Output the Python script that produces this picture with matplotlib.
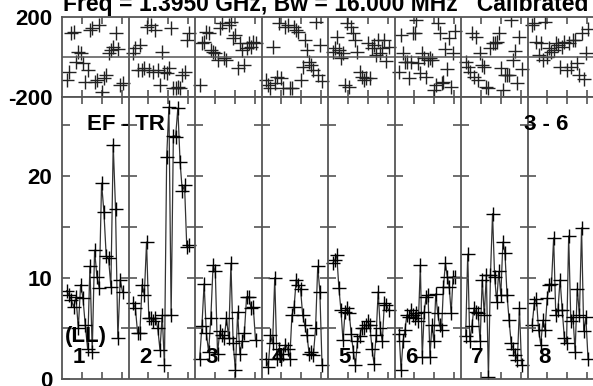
import matplotlib.pyplot as plt
import numpy as np

plt.rcParams['font.family'] = ['Liberation Sans', 'DejaVu Sans']
plt.rcParams['font.weight'] = 'bold'

title = 'Freq = 1.3950 GHz, Bw = 16.000 MHz   Calibrated'
baseline_label = 'EF - TR'
source_label = '3 - 6'
pol_label = '(LL)'
section_labels = ['1', '2', '3', '4', '5', '6', '7', '8']

# amplitude per section (IF 1..8)
amp1 = [8.7, 8.3, 7.8, 7.1, 8.1, 5.0, 9.3, 8.0, 5.3, 3.0, 11.1, 2.7, 12.7, 10.1, 9.0,
        19.3, 16.5, 12.1, 11.9, 9.1, 23.1, 16.8, 4.0, 9.8, 8.6]
amp2 = [7.5, 7.0, 4.5, 4.5, 9.3, 8.3, 13.5, 6.0, 6.0, 5.7, 6.0, 5.0, 2.9, 6.3, 1.4,
        21.9, 26.8, 6.3, 24.0, 23.9, 26.7, 21.4, 18.5, 19.1, 13.0, 13.2]
amp3 = [2.0, 5.2, 9.4, 4.5, 2.7, 6.0, 11.2, 10.6, 2.5, 4.7, 4.3, 4.0, 6.0, 4.0, 11.4,
        3.5, 0.9, 6.6, 2.5, 3.7, 4.5, 8.1, 8.1, 7.0, 7.1, 3.8]
amp4 = [2.0, 1.2, 4.3, 3.5, 10.0, 2.0, 3.0, 2.0, 2.5, 3.4, 3.0, 2.0, 6.3, 7.1, 9.8,
        9.3, 8.9, 6.3, 5.3, 4.3, 2.5, 2.7, 2.4, 5.0, 11.1, 8.6, 1.4]
amp5 = [11.4, 11.7, 12.2, 9.0, 6.8, 3.8, 6.6, 7.0, 6.5, 4.4, 2.7, 1.4, 3.7, 4.2, 5.0,
        5.0, 5.3, 5.7, 5.3, 3.0, 1.5, 4.3, 8.6, 5.0, 3.7, 7.5, 7.3, 6.8]
amp6 = [4.4, 0.9, 3.7, 4.8, 6.3, 6.1, 6.8, 6.3, 6.0, 6.5, 5.7, 11.2, 2.2, 6.6, 8.1,
        8.3, 2.2, 5.3, 3.7, 8.4, 6.5, 5.3, 4.8, 9.1, 11.4, 10.1, 9.1, 6.5, 10.1, 10.1]
amp7 = [4.2, 12.3, 3.7, 5.2, 7.0, 6.6, 6.5, 3.7, 9.8, 6.3, 10.3, 0.2, 10.3, 16.3, 10.1,
        7.6, 10.6, 8.3, 13.5, 12.4, 8.3, 5.8, 3.5, 3.0, 2.4, 1.9, 7.0, 1.4]
amp8 = [5.3, 7.5, 7.9, 4.8, 3.4, 5.8, 4.8, 8.0, 9.3, 9.4, 13.9, 6.3, 6.8, 9.8, 6.8,
        4.0, 3.5, 14.1, 5.7, 6.1, 2.7, 8.9, 6.3, 14.9, 4.7, 6.1, 2.0]

# phase (degrees) per section
ph1 = [-115, -73, 118, 125, -23, 27, 18, -32, -123, -65, 135, 143, -123, -115, 160,
       -173, -107, -90, 18, 35, 52, 118, 40, -140, -132]
ph2 = [18, 43, -65, 60, -65, -57, 152, -65, 160, -73, 135, -65, -140, 27, -73,
       -82, -57, 143, -157, -157, -148, -157, -90, -73, 85, 118]
ph3 = [-140, 68, 77, 125, 118, 35, 27, 18, -15, 143, 168, -7, -15, 160, 177,
       93, 110, -57, 68, 35, -40, 43, 68, 52, 77, 68]
ph4 = [-115, -140, -157, 52, -132, -98, 168, -107, -157, 152, 160, -157, -157, 152,
       135, 125, -115, -48, 85, 35, -23, -40, -65, 177, -90, 60, -120]
ph5 = [27, 43, 102, 35, -7, 18, -140, 168, -148, 152, 118, 85, 27, -73, -98,
       -115, -107, 68, -107, 43, 60, 10, 85, 18, 43, 85, -20, 50]
ph6 = [-73, 110, 18, -23, -23, -107, -23, 118, 118, 185, -32, -82, 18, -7, -98,
       -15, -7, -15, -165, -140, 168, 118, -132, -123, 40, -60, 95, -150, 20, 130]
ph7 = [-23, -48, -73, 118, -98, 102, -115, 18, -40, -48, -148, -157, 43, 68, 68,
       77, 118, -57, -165, -90, -90, -90, 185, -15, 30, -130, 100, -60]
ph8 = [160, 168, 77, 10, 68, -15, 177, 2, 43, 27, 35, 68, 60, -48, 52,
       77, -65, 68, -48, 85, 85, -32, -90, 120, -110, 20, 140]

amps = [amp1, amp2, amp3, amp4, amp5, amp6, amp7, amp8]
phases = [ph1, ph2, ph3, ph4, ph5, ph6, ph7, ph8]

frame_col = '#555555'
fs = 16
nsec = len(amps)

fig = plt.figure(figsize=(5.93, 3.86), dpi=100)
left, width = 62 / 593, 532 / 593
axp = fig.add_axes([left, 1 - 97 / 386, width, 80 / 386])
axa = fig.add_axes([left, 1 - 379 / 386, width, 282 / 386])

for s in range(nsec):
    n = len(amps[s])
    x = s + 0.07 + 0.84 * np.arange(n) / (n - 1)
    axa.plot(x, amps[s], color='#333333', lw=0.9, marker='+', ms=10, mew=1.0,
             mec='black')
    axp.plot(x, phases[s], ls='none', marker='+', ms=10, mew=1.0, color='#222222')

xt = [s + f for s in range(nsec) for f in (0.3, 0.6, 0.9)]
for ax in (axp, axa):
    ax.set_xlim(0, nsec)
    for s in range(1, nsec):
        ax.axvline(s, color=frame_col, lw=1.3)
    for sp in ax.spines.values():
        sp.set_color(frame_col)
        sp.set_linewidth(1.3)
    ax.set_xticks(xt)
    ax.tick_params(axis='x', labelbottom=False, top=True, bottom=True,
                   direction='in', length=5, color=frame_col, width=1.2)
    ax.tick_params(axis='y', labelsize=fs, color=frame_col, width=1.2,
                   direction='in', length=6, pad=7)

axp.set_ylim(-200, 200)
axp.set_yticks([-200, 200])
axp.set_yticklabels(['-200', '200'], fontweight='bold')
axp.axhline(0, color=frame_col, lw=1.1)
axp.tick_params(axis='y', length=0)

axa.set_ylim(0, 27.8)
axa.set_yticks([0, 5, 10, 15, 20, 25])
axa.set_yticklabels(['0', '', '10', '', '20', ''], fontweight='bold')
for s in range(1, nsec):
    axa.plot([s] * 5, [5, 10, 15, 20, 25], ls='none', marker='_', ms=12, mew=1.2,
             color=frame_col)

axa.text(0.38, 24.5, baseline_label, fontsize=fs, fontweight='bold')
axa.text(6.95, 24.5, source_label, fontsize=fs, fontweight='bold')
axa.text(0.04, 3.65, pol_label, fontsize=fs, fontweight='bold')
for s, lab in enumerate(section_labels):
    axa.text(s + 0.25, 1.55, lab, fontsize=fs, fontweight='bold', ha='center')

fig.text(63 / 593, 1 - 11 / 386, title, fontsize=16.5, fontweight='bold',
         va='baseline', ha='left')

fig.savefig('out.png', dpi=100)
